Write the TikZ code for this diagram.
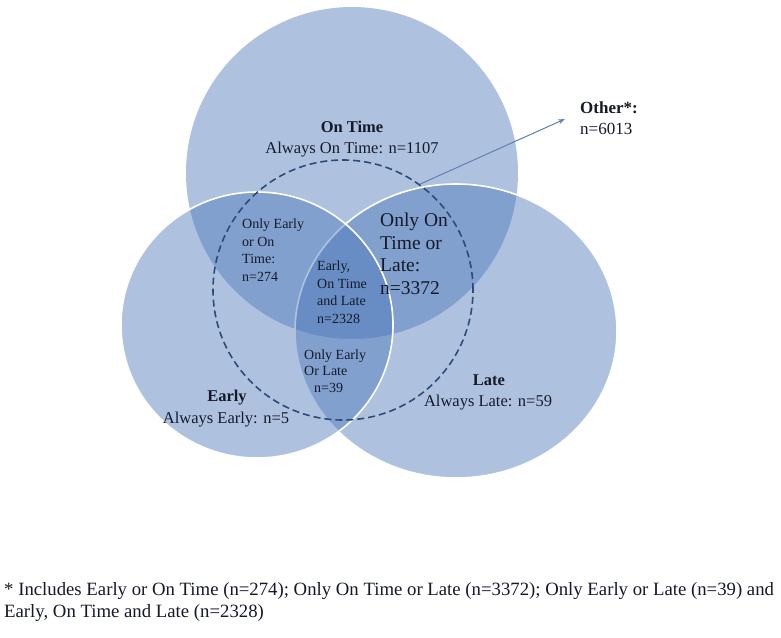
\documentclass[tikz,border=0pt]{standalone}
\usepackage{fontspec}
\setmainfont{Liberation Serif}
\usetikzlibrary{arrows.meta}
\definecolor{vennblue}{RGB}{72,118,185}
\definecolor{dashblue}{RGB}{45,75,118}
\definecolor{arrowblue}{RGB}{95,128,175}
\definecolor{txt}{RGB}{22,26,40}
\begin{document}
\begin{tikzpicture}[x=1pt,y=-1pt,
  setfill/.style={fill=vennblue, fill opacity=0.44},
  setedge/.style={draw=white, line width=1.6pt},
  lbl/.style={text=txt, inner sep=0pt},
  big/.style={font=\fontsize{16.5}{19}\selectfont},
  bigb/.style={font=\bfseries\fontsize{16.5}{19}\selectfont},
  small/.style={font=\fontsize{14}{17.5}\selectfont, align=left},
]
\useasboundingbox (0,0) rectangle (781,637);
\fill[white] (0,0) rectangle (781,637);
% sets: On Time, Late, Early
\path[setfill] (352,173) circle[radius=166pt];
\path[setfill] (456,331) ellipse[x radius=161pt, y radius=147pt];
\draw[setedge] (456,331) ellipse[x radius=161pt, y radius=147pt];
\path[setfill] (257,325) ellipse[x radius=136pt, y radius=133pt];
\draw[setedge] (257,325) ellipse[x radius=136pt, y radius=133pt];
% dashed circle
\node[circle, draw=dashblue, line width=1.6pt, dash pattern=on 7pt off 4pt,
      minimum size=260pt, inner sep=0pt] (others) at (343,290) {};
% labels
\node[lbl,bigb] (ontime) at (352,127) {On Time};
\node[lbl,big] (ontimen) at (352,150) {Always On Time: n=1107};
\node[lbl,bigb] (early) at (227,398) {Early};
\node[lbl,big] (earlyn) at (226,420) {Always Early: n=5};
\node[lbl,bigb] (late) at (489,380) {Late};
\node[lbl,big] (laten) at (488,403) {Always Late: n=59};
\node[lbl,small,anchor=west] (eo) at (242,250) {Only Early\\or On\\Time:\\n=274};
\node[lbl,small,anchor=west,font=\fontsize{14}{17.5}\selectfont] (eol) at (317,292) {Early,\\On Time\\and Late\\n=2328};
\node[lbl,anchor=west,align=left,font=\fontsize{19.5}{22.5}\selectfont] (ol) at (380,254) {Only On\\Time or\\Late:\\n=3372};
\node[lbl,small,anchor=west,font=\fontsize{14}{16.5}\selectfont] (el) at (304,371) {Only Early\\Or Late\\\hspace*{10pt}n=39};
\node[lbl,anchor=west,align=left,font=\fontsize{17}{21}\selectfont] (other) at (580,118) {\textbf{Other*:}\\n=6013};
\coordinate (tip) at (565,119);
\draw[arrowblue, line width=1pt, -{Stealth[length=7pt,width=5pt]}] (others.54) -- (tip);
% footnote
\node[lbl,anchor=north west,align=left,font=\fontsize{18.75}{22}\selectfont] (note) at (4,582)
 {* Includes Early or On Time (n=274); Only On Time or Late (n=3372); Only Early or Late (n=39) and\\
  Early, On Time and Late (n=2328)};
\end{tikzpicture}
\end{document}
